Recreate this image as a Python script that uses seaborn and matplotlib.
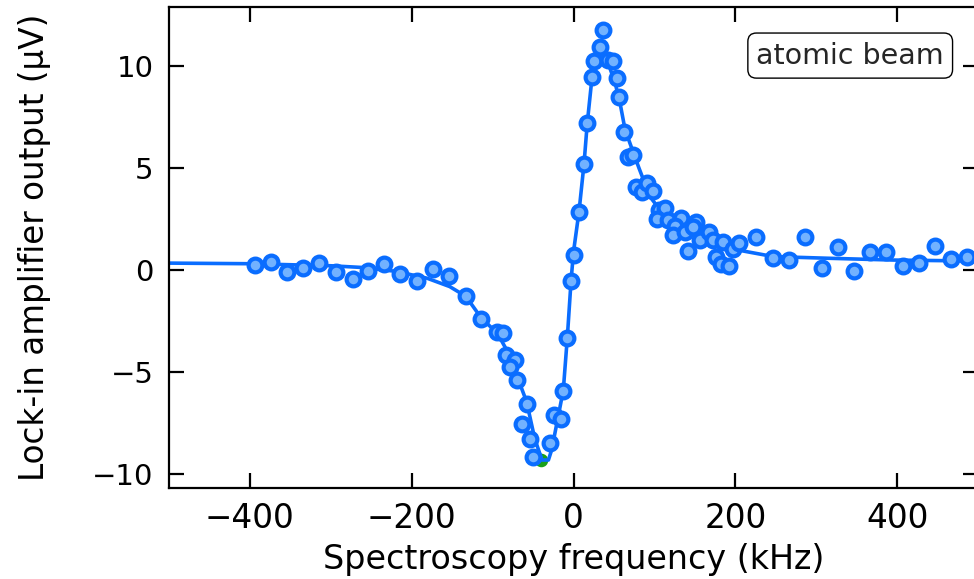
import matplotlib
matplotlib.use("Agg")
import matplotlib.pyplot as plt
import seaborn as sns
import pandas as pd

# ---- data ----
freq_khz = [-394, -374, -354, -334, -314, -294, -273, -254, -234, -214, -194, -174,
            -154, -133, -114, -94, -87, -83, -72, -78, -69.5, -58, -64, -54, -50,
            -29, -24, -15.5, -13.4, -7.7, -3, 0, 6.8, 13, 17, 22.5, 25.7, 32.7,
            36.8, 43, 49, 54, 56.6, 62.4, 67.7, 74, 77, 85, 91, 98, 106, 113, 103,
            117, 132.5, 126, 123, 138, 152, 147.5, 142, 156, 167, 173, 176, 185,
            182, 192.6, 197, 204, 226, 247, 266, 286, 307, 326.6, 346.7, 366.5,
            386, 407, 427, 447, 466.6, 486]
signal_uv = [0.26, 0.39, -0.07, 0.13, 0.37, -0.07, -0.44, -0.03, 0.29, -0.2, -0.51,
             0.05, -0.26, -1.26, -2.40, -3.01, -3.06, -4.15, -4.40, -4.75, -5.38,
             -6.55, -7.53, -8.27, -9.14, -8.45, -7.09, -7.29, -5.92, -3.33, -0.51,
             0.75, 2.87, 5.21, 7.2, 9.49, 10.27, 10.93, 11.78, 10.31, 10.27, 9.44,
             8.48, 6.79, 5.57, 5.65, 4.10, 3.85, 4.27, 3.87, 2.94, 3.04, 2.52, 2.47,
             2.55, 2.17, 1.75, 1.89, 2.38, 2.12, 0.96, 1.50, 1.89, 1.46, 0.67, 1.40,
             0.32, 0.23, 1.02, 1.35, 1.63, 0.59, 0.48, 1.62, 0.10, 1.13, -0.02, 0.91,
             0.91, 0.21, 0.37, 1.19, 0.54, 0.67]

fit_x = [-500, -400, -300, -263, -220, -181, -153, -133, -114, -94, -78, -68, -58,
         -48, -39, -31, -27, -19, -12.6, -7.7, -3, 0, 6.8, 13, 17, 22.5, 27, 32,
         38, 45, 51, 57.5, 63.7, 70, 81, 94.6, 107, 127.5, 160, 202, 247, 313,
         395, 500]
fit_y = [0.35, 0.32, 0.22, 0.14, -0.05, -0.39, -0.80, -1.28, -2.34, -3.09, -4.24,
         -5.38, -6.44, -8.24, -9.30, -9.30, -8.80, -7.18, -5.87, -3.33, -0.51, 0.9,
         2.87, 5.21, 7.2, 9.3, 9.95, 10.2, 10.15, 9.9, 9.25, 8.2, 6.9, 6.2, 5.0,
         3.6, 2.96, 2.14, 1.49, 1.0, 0.67, 0.59, 0.5, 0.45]

hidden_x = [-40]
hidden_y = [-9.3]

x_ticks = [-400, -200, 0, 200, 400]
y_ticks = [-10, -5, 0, 5, 10]
label_text = "atomic beam"

# ---- styling ----
sns.set_theme(style="ticks")
plt.rcParams["font.family"] = ["DejaVu Sans"]

BLUE = "#0a6dff"
LIGHT = "#72b2ff"

fig = plt.figure(figsize=(9.74, 5.79), dpi=100)
ax = fig.add_axes([169 / 974, 1 - 488 / 579, 809 / 974, 481 / 579])

pts = pd.DataFrame({"f": freq_khz, "s": signal_uv})
fit = pd.DataFrame({"f": fit_x, "s": fit_y})
hid = pd.DataFrame({"f": hidden_x, "s": hidden_y})

sns.scatterplot(data=hid, x="f", y="s", ax=ax, s=60, color="#1aa01a",
                edgecolor="#1aa01a", linewidth=2.0, zorder=1, legend=False)
sns.lineplot(data=fit, x="f", y="s", ax=ax, color=BLUE, linewidth=2.6,
             zorder=2, legend=False)
sns.scatterplot(data=pts, x="f", y="s", ax=ax, s=98, color=LIGHT,
                edgecolor=BLUE, linewidth=3.0, zorder=3, legend=False)

ax.set_xlim(-500, 500)
ax.set_ylim(-10.67, 12.9)
ax.set_xticks(x_ticks)
ax.set_yticks(y_ticks)
ax.tick_params(axis="both", which="major", direction="in", length=10.5,
               width=1.6, pad=11, top=True, right=True, colors="black")
ax.tick_params(axis="y", labelsize=21)
ax.tick_params(axis="x", labelsize=23.5, pad=10)
for sp in ax.spines.values():
    sp.set_linewidth(1.6)
    sp.set_color("black")

ax.set_xlabel("Spectroscopy frequency (kHz)", fontsize=24, labelpad=6,
              color="black")
ax.set_ylabel("Lock-in amplifier output (µV)", fontsize=23.5, labelpad=30,
              color="black")

ax.text(0.958, 0.899, label_text, transform=ax.transAxes, ha="right",
        va="center", fontsize=20.5, zorder=5,
        bbox=dict(boxstyle="round,pad=0.3", facecolor="white",
                  edgecolor="black", linewidth=1.0))

fig.savefig("out.png", dpi=100)
